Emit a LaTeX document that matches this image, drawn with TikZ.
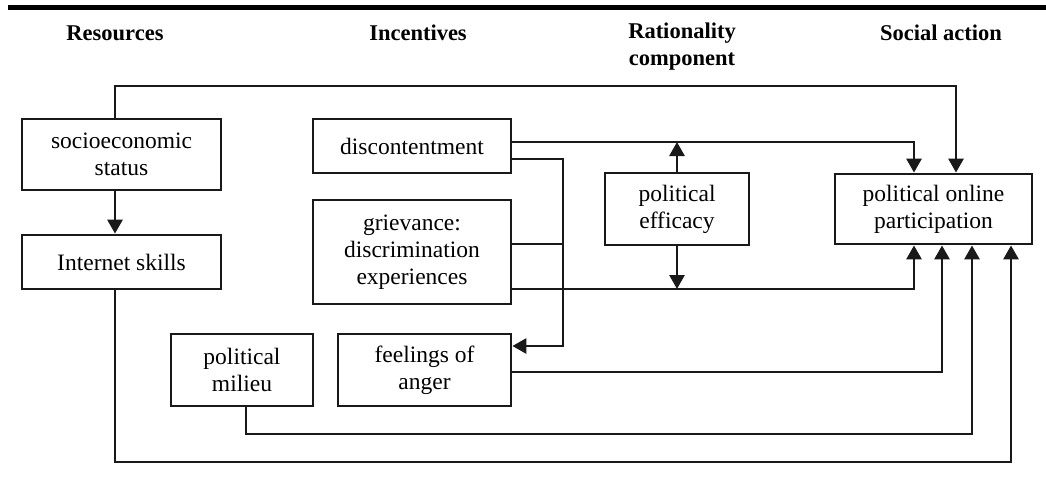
\documentclass[tikz,border=0pt]{standalone}
\usepackage{fontspec}
\setmainfont{Liberation Serif}
\usetikzlibrary{arrows.meta}
\begin{document}
\begin{tikzpicture}[x=1pt,y=-1pt,
  box/.style={draw=black!90, line width=2.8pt, rectangle, align=center, inner sep=0pt,
    font=\fontsize{23.5}{27}\selectfont},
  head/.style={align=center, font=\fontsize{22.5}{27}\selectfont\bfseries},
  conn/.style={draw=black!90, line width=2.8pt},
  arr/.style={conn, -{Triangle[length=14pt,width=15pt]}}]
\useasboundingbox (0,0) rectangle (1046,493);
\fill[white] (0,0) rectangle (1046,493);
% top rule
\draw[line width=5pt] (8,7) -- (1046,7);
% headers
\node[head] (hR) at (115,33) {Resources};
\node[head] (hI) at (418,33) {Incentives};
\node[head] (hC) at (682,47) {Rationality\\component};
\node[head] (hS) at (941,33) {Social action};
% boxes
\node[box, minimum width=199pt, minimum height=71pt] (socio) at (121.5,154.5) {socioeconomic\\status};
\node[box, minimum width=199pt, minimum height=54pt] (inet) at (121.5,262) {Internet skills};
\node[box, minimum width=198pt, minimum height=54pt] (disc) at (412,146) {discontentment};
\node[box, minimum width=198pt, minimum height=104pt] (griev) at (412,252) {grievance:\\discrimination\\experiences};
\node[box, minimum width=142pt, minimum height=72pt] (milieu) at (242,370) {political\\milieu};
\node[box, minimum width=173pt, minimum height=72pt] (anger) at (424.5,370) {feelings of\\anger};
\node[box, minimum width=144pt, minimum height=72pt] (eff) at (677,209) {political\\efficacy};
\node[box, minimum width=197pt, minimum height=70pt] (part) at (933.5,209) {political online\\participation};
% routing coordinates
\coordinate (cS) at (115,86);
\coordinate (cP) at (956,86);
\coordinate (d1) at (914,142);
\coordinate (d2) at (563,159);
\coordinate (d3) at (563,346);
\coordinate (g1) at (563,244);
\coordinate (g2) at (914,289);
\coordinate (a1) at (942,372);
\coordinate (m1) at (246,434);
\coordinate (m2) at (972,434);
\coordinate (i1) at (115,462);
\coordinate (i2) at (1011,462);
% connectors
\draw[arr] (socio.north -| cS) -- (cS) -- (cP) -- (part.north -| cP);
\draw[arr] (socio.south -| cS) -- (inet.north -| cS);
\draw[arr] (disc.east |- d1) -- (d1) -- (part.north -| d1);
\draw[arr] (eff.north) -- (eff.north |- d1);
\draw[arr] (disc.east |- d2) -- (d2) -- (d3) -- (anger.east |- d3);
\draw[conn] (griev.east |- g1) -- (g1);
\draw[arr] (griev.east |- g2) -- (g2) -- (part.south -| g2);
\draw[arr] (eff.south) -- (eff.south |- g2);
\draw[arr] (anger.east |- a1) -- (a1) -- (part.south -| a1);
\draw[arr] (milieu.south -| m1) -- (m1) -- (m2) -- (part.south -| m2);
\draw[arr] (inet.south -| i1) -- (i1) -- (i2) -- (part.south -| i2);
\end{tikzpicture}
\end{document}
